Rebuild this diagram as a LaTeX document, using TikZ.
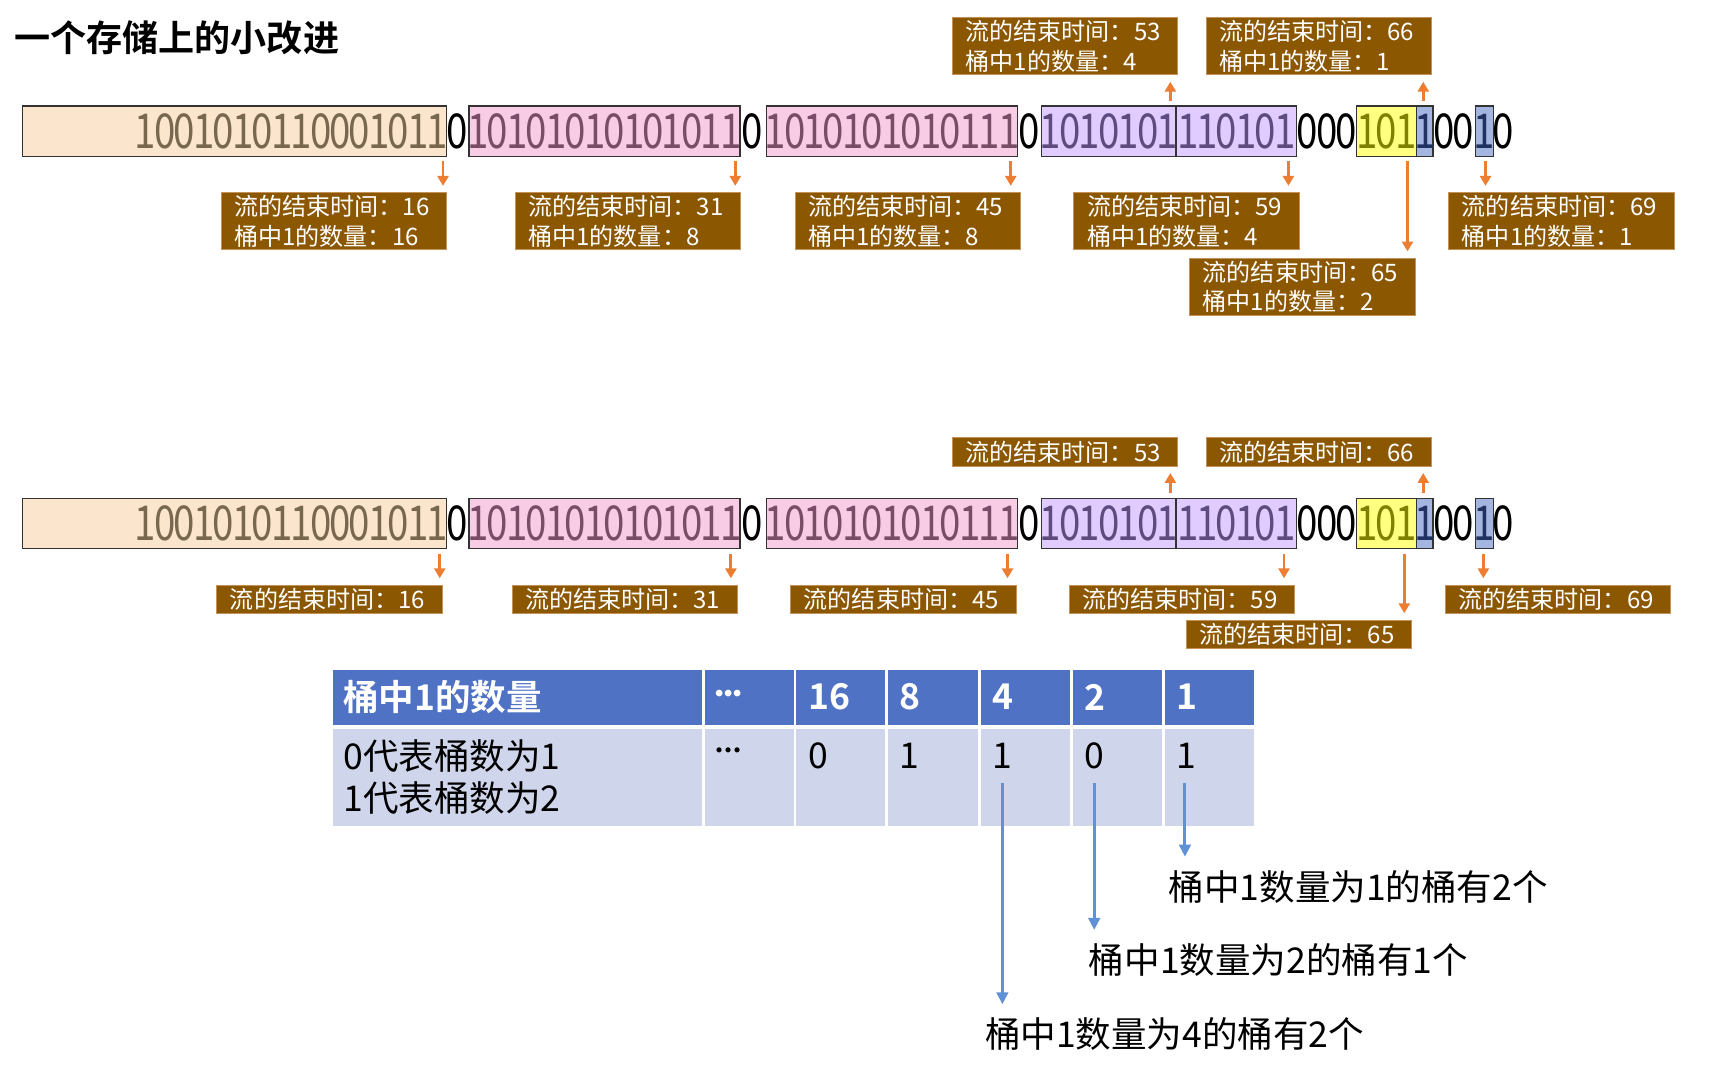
\documentclass[tikz,border=0pt]{standalone}
\usepackage{fontspec}
\setmainfont{Noto Sans CJK SC}[BoldFont={Noto Sans CJK SC Bold}]
\newfontfamily\bitfont{Noto Sans CJK SC}[FakeStretch=0.8]
\usetikzlibrary{arrows.meta,calc}

\definecolor{brn}{RGB}{139,87,0}
\definecolor{brnline}{RGB}{196,146,86}
\definecolor{orng}{RGB}{237,125,49}
\definecolor{beigef}{RGB}{251,229,204}
\definecolor{beiget}{RGB}{120,104,80}
\definecolor{pinkf}{RGB}{248,204,228}
\definecolor{pinkt}{RGB}{122,76,104}
\definecolor{purpf}{RGB}{224,204,255}
\definecolor{purpt}{RGB}{94,76,128}
\definecolor{yelf}{RGB}{255,255,128}
\definecolor{yelt}{RGB}{128,128,0}
\definecolor{bluf}{RGB}{164,181,224}
\definecolor{blut}{RGB}{32,50,96}
\definecolor{hdr}{RGB}{79,114,196}
\definecolor{bdy}{RGB}{207,213,234}
\definecolor{barrc}{RGB}{96,145,214}

\newlength\bitw
\setlength\bitw{17.8pt}
\makeatletter
\newcommand\bits[1]{\bits@i#1\relax}
\def\bits@i#1{\ifx\relax#1\else\makebox[\bitw][c]{#1}\expandafter\bits@i\fi}
\makeatother
\newcommand\threedots[1]{{\fontsize{#1}{#1}\selectfont\makebox[8.3pt][c]{·}\makebox[8.3pt][c]{·}\makebox[8.3pt][c]{·}}}

\tikzset{
 bitbox/.style={draw=black!80, line width=1.3pt, inner sep=0pt, minimum height=46pt},
 bittext/.style={inner sep=0pt, font=\bitfont\fontsize{44}{44}\selectfont},
 labtwo/.style={fill=brn, draw=brnline, line width=0.8pt, text=white, anchor=north west,
   minimum width=206pt, minimum height=52pt, text width=182pt, inner xsep=12pt, inner ysep=0pt,
   align=left, font=\fontsize{22}{27}\selectfont},
 labone/.style={labtwo, minimum height=26pt},
 oarr/.style={draw=orng, line width=2.6pt, -{Triangle[length=9pt,width=10pt]}},
 barr/.style={draw=barrc, line width=2.8pt, -{Triangle[length=11pt,width=10.5pt]}},
 hcell/.style={fill=hdr, draw=white, line width=2.5pt, anchor=north west, inner sep=0pt, minimum height=53pt},
 bcell/.style={fill=bdy, draw=white, line width=2.5pt, anchor=north west, inner sep=0pt, minimum height=91.5pt},
 htext/.style={text=white, anchor=west, inner sep=0pt, font=\bfseries\fontsize{32.5}{32.5}\selectfont},
 btext/.style={text=black, anchor=west, inner sep=0pt, align=left, font=\fontsize{32.5}{38}\selectfont},
 ntext/.style={anchor=west, inner sep=0pt, font=\fontsize{32.5}{33}\selectfont},
}

% #1 prefix, #2 y of the row middle
\newcommand\bitrow[2]{%
 \node[bitbox,fill=beigef,minimum width=388pt,anchor=west] (#1b1) at (20,#2) {};
 \node[bittext,text=beiget,anchor=east] (#1t1) at (#1b1.east) {\bits{1001010110001011}};
 \node[bittext] (#1z1) at (418.5,#2) {\bits{0}};
 \node[bitbox,fill=pinkf,minimum width=248pt] (#1b2) at (553,#2) {};
 \node[bittext,text=pinkt] (#1t2) at (#1b2) {\bits{10101010101011}};
 \node[bittext] (#1z2) at (688.5,#2) {\bits{0}};
 \node[bitbox,fill=pinkf,minimum width=230pt] (#1b3) at (816,#2) {};
 \node[bittext,text=pinkt] (#1t3) at (#1b3) {\bits{1010101010111}};
 \node[bittext] (#1z3) at (941.5,#2) {\bits{0}};
 \node[bitbox,fill=purpf,minimum width=123pt] (#1b4) at (1014.5,#2) {};
 \node[bittext,text=purpt] (#1t4) at (#1b4) {\bits{1010101}};
 \node[bitbox,fill=purpf,minimum width=110pt] (#1b5) at (1131,#2) {};
 \node[bittext,text=purpt] (#1t5) at (#1b5) {\bits{110101}};
 \node[bittext] (#1z4) at (1214,#2) {\bits{000}};
 \node[bitbox,fill=yelf,minimum width=55pt] (#1b6) at (1268.5,#2) {};
 \node[bittext,text=yelt] (#1t6) at (#1b6) {\bits{101}};
 \node[bitbox,fill=bluf,minimum width=15pt] (#1b7) at (1303.5,#2) {};
 \node[bittext,text=blut] (#1t7) at (#1b7) {\makebox[10pt]{1}};
 \node[bittext] (#1z5) at (1330,#2) {\bits{00}};
 \node[bitbox,fill=bluf,minimum width=16pt] (#1b8) at (1358,#2) {};
 \node[bittext,text=blut] (#1t8) at (#1b8) {\makebox[10pt]{1}};
 \node[bittext] (#1z6) at (1375,#2) {\bits{0}};
}
% down arrow: #1 start anchor, #2 x offset, #3 label node
\newcommand\downarr[3]{\draw[oarr] ($(#1)+(#2,4)$) coordinate (tmpa) -- ($(tmpa |- #3.north)+(0,-6)$);}
\newcommand\uparr[3]{\draw[oarr] ($(#1)+(#2,-4)$) coordinate (tmpa) -- ($(tmpa |- #3.south)+(0,6)$);}

\begin{document}
\begin{tikzpicture}[x=1pt,y=-1pt]
\useasboundingbox (0,0) rectangle (1568,981);

\node[anchor=west,inner sep=0pt,font=\bfseries\fontsize{33}{33}\selectfont] (title) at (13,35) {一个存储上的小改进};

% ---------- upper part ----------
\bitrow{a}{120}
\node[labtwo] (aL16) at (202,176) {流的结束时间：16\\桶中1的数量：16};
\node[labtwo] (aL31) at (471,176) {流的结束时间：31\\桶中1的数量：8};
\node[labtwo] (aL45) at (727,176) {流的结束时间：45\\桶中1的数量：8};
\node[labtwo] (aL59) at (982,176) {流的结束时间：59\\桶中1的数量：4};
\node[labtwo] (aL69) at (1325,176) {流的结束时间：69\\桶中1的数量：1};
\node[labtwo] (aL65) at (1088,236) {流的结束时间：65\\桶中1的数量：2};
\node[labtwo] (aL53) at (871,16) {流的结束时间：53\\桶中1的数量：4};
\node[labtwo] (aL66) at (1103,16) {流的结束时间：66\\桶中1的数量：1};

\downarr{ab1.south east}{-4}{aL16}
\downarr{ab2.south east}{-5}{aL31}
\downarr{ab3.south east}{-7}{aL45}
\downarr{ab5.south east}{-8}{aL59}
\downarr{ab8.south}{1}{aL69}
\downarr{ab6.south east}{-9}{aL65}
\uparr{ab4.north east}{-6}{aL53}
\uparr{ab7.north}{-1.5}{aL66}

% ---------- lower part ----------
\bitrow{b}{479}
\node[labone] (bL16) at (198,535) {流的结束时间：16};
\node[labone] (bL31) at (468,535) {流的结束时间：31};
\node[labone] (bL45) at (723,535) {流的结束时间：45};
\node[labone] (bL59) at (978,535) {流的结束时间：59};
\node[labone] (bL69) at (1322,535) {流的结束时间：69};
\node[labone] (bL65) at (1085,567) {流的结束时间：65};
\node[labone] (bL53) at (871,400) {流的结束时间：53};
\node[labone] (bL66) at (1103,400) {流的结束时间：66};

\downarr{bb1.south east}{-7}{bL16}
\downarr{bb2.south east}{-9}{bL31}
\downarr{bb3.south east}{-10}{bL45}
\downarr{bb5.south east}{-12}{bL59}
\downarr{bb8.south}{-1}{bL69}
\downarr{bb6.south east}{-12}{bL65}
\uparr{bb4.north east}{-6}{bL53}
\uparr{bb7.north}{-1.5}{bL66}

% ---------- table ----------
\node[hcell,minimum width=340pt] (h1) at (302,610) {};
\node[hcell,minimum width=84pt] (h2) at (642,610) {};
\node[hcell,minimum width=84pt] (h3) at (726,610) {};
\node[hcell,minimum width=85pt] (h4) at (810,610) {};
\node[hcell,minimum width=84pt] (h5) at (895,610) {};
\node[hcell,minimum width=84pt] (h6) at (979,610) {};
\node[hcell,minimum width=84pt] (h7) at (1063,610) {};
\node[bcell,minimum width=340pt] (c1) at (302,664.5) {};
\node[bcell,minimum width=84pt] (c2) at (642,664.5) {};
\node[bcell,minimum width=84pt] (c3) at (726,664.5) {};
\node[bcell,minimum width=85pt] (c4) at (810,664.5) {};
\node[bcell,minimum width=84pt] (c5) at (895,664.5) {};
\node[bcell,minimum width=84pt] (c6) at (979,664.5) {};
\node[bcell,minimum width=84pt] (c7) at (1063,664.5) {};

\node[htext] (ht1) at ($(h1.west)+(12,0)$) {桶中1的数量};
\node[htext] (ht2) at ($(h2.west)+(12,0)$) {\threedots{24}};
\node[htext] (ht3) at ($(h3.west)+(13,0)$) {16};
\node[htext] (ht4) at ($(h4.west)+(13,0)$) {8};
\node[htext] (ht5) at ($(h5.west)+(13,0)$) {4};
\node[htext] (ht6) at ($(h6.west)+(13,0)$) {2};
\node[htext] (ht7) at ($(h7.west)+(13,0)$) {1};

\node[btext] (bt1) at ($(c1.north west)+(12,46.5)$) {0代表桶数为1\\1代表桶数为2};
\node[btext] (bt2) at ($(c2.north west)+(12,25)$) {\threedots{22}};
\node[btext] (bt3) at ($(c3.north west)+(13,27)$) {0};
\node[btext] (bt4) at ($(c4.north west)+(13,27)$) {1};
\node[btext] (bt5) at ($(c5.north west)+(13,27)$) {1};
\node[btext] (bt6) at ($(c6.north west)+(13,27)$) {0};
\node[btext] (bt7) at ($(c7.north west)+(13,27)$) {1};

% ---------- result texts ----------
\node[ntext] (r1) at (1069,811) {桶中1数量为1的桶有2个};
\node[ntext] (r2) at (996,878) {桶中1数量为2的桶有1个};
\node[ntext] (r4) at (901,946) {桶中1数量为4的桶有2个};

\coordinate (s5) at ($(c5.north west)+(22,52)$);
\coordinate (s6) at ($(c6.north west)+(22,52)$);
\coordinate (s7) at ($(c7.north west)+(21,52)$);
\draw[barr] (s5) -- ($(s5 |- r4.north)+(0,-12)$);
\draw[barr] (s6) -- ($(s6 |- r2.north)+(0,-12)$);
\draw[barr] (s7) -- ($(s7 |- r1.north)+(0,-12)$);
\end{tikzpicture}
\end{document}
